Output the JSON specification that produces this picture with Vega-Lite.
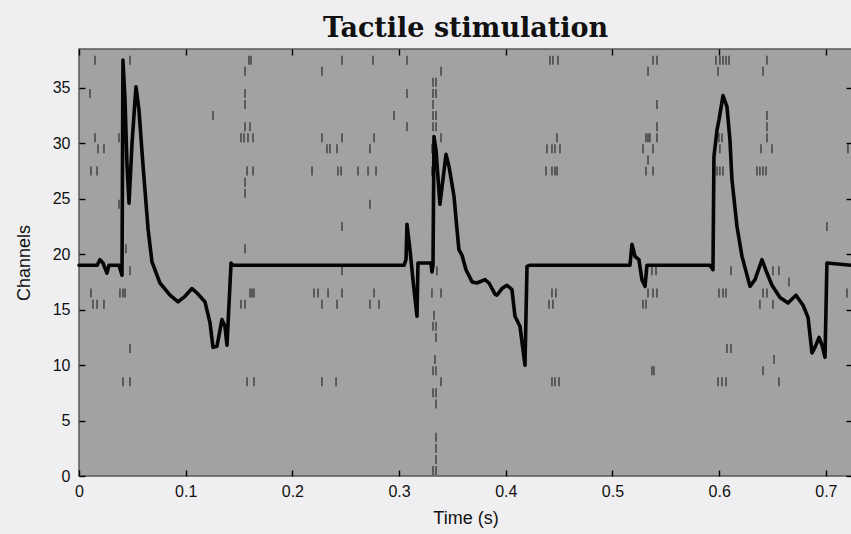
{
  "$schema": "https://vega.github.io/schema/vega-lite/v6.json",
  "autosize": "none",
  "width": 773,
  "height": 427,
  "padding": {"left": 79, "top": 49, "right": 0, "bottom": 58},
  "background": "#efeff1",
  "title": {
    "text": "Tactile stimulation",
    "font": "DejaVu Serif",
    "fontSize": 27,
    "fontWeight": "bold",
    "color": "#111111",
    "anchor": "middle",
    "baseline": "alphabetic",
    "offset": 12,
    "dy": 28
  },
  "config": {
    "view": {"fill": "#a2a2a2", "stroke": "#5a5a5a", "strokeWidth": 1.5},
    "axis": {
      "grid": false,
      "domain": false,
      "offset": -6,
      "zindex": 1,
      "labelFlush": false,
      "tickColor": "#000000",
      "tickSize": 6,
      "tickWidth": 1.4,
      "labelFont": "Liberation Sans",
      "labelFontSize": 16,
      "labelColor": "#111111",
      "titleFont": "Liberation Sans",
      "titleFontSize": 18,
      "titleFontWeight": "normal",
      "titleColor": "#111111"
    }
  },
  "datasets": {
    "spikes": [
      {"t": 0.0150, "ch": 37}, {"t": 0.0478, "ch": 37}, {"t": 0.1593, "ch": 37}, {"t": 0.1612, "ch": 37},
      {"t": 0.2465, "ch": 37}, {"t": 0.2755, "ch": 37}, {"t": 0.3074, "ch": 37}, {"t": 0.4414, "ch": 37},
      {"t": 0.4442, "ch": 37}, {"t": 0.4489, "ch": 37}, {"t": 0.5380, "ch": 37}, {"t": 0.5417, "ch": 37},
      {"t": 0.5970, "ch": 37}, {"t": 0.6007, "ch": 37}, {"t": 0.6036, "ch": 37}, {"t": 0.6064, "ch": 37},
      {"t": 0.6092, "ch": 37}, {"t": 0.6448, "ch": 37},
      {"t": 0.1556, "ch": 36}, {"t": 0.2277, "ch": 36}, {"t": 0.3393, "ch": 36}, {"t": 0.5333, "ch": 36},
      {"t": 0.5989, "ch": 36}, {"t": 0.6411, "ch": 36},
      {"t": 0.3318, "ch": 35}, {"t": 0.3346, "ch": 35},
      {"t": 0.0103, "ch": 34}, {"t": 0.1556, "ch": 34}, {"t": 0.3074, "ch": 34}, {"t": 0.3318, "ch": 34},
      {"t": 0.3346, "ch": 34},
      {"t": 0.1556, "ch": 33}, {"t": 0.3318, "ch": 33}, {"t": 0.5417, "ch": 33},
      {"t": 0.1256, "ch": 32}, {"t": 0.2952, "ch": 32}, {"t": 0.3318, "ch": 32}, {"t": 0.3346, "ch": 32},
      {"t": 0.6448, "ch": 32},
      {"t": 0.1556, "ch": 31}, {"t": 0.1603, "ch": 31}, {"t": 0.3074, "ch": 31}, {"t": 0.3318, "ch": 31},
      {"t": 0.3346, "ch": 31}, {"t": 0.5417, "ch": 31}, {"t": 0.6448, "ch": 31},
      {"t": 0.0150, "ch": 30}, {"t": 0.0375, "ch": 30}, {"t": 0.1518, "ch": 30}, {"t": 0.1546, "ch": 30},
      {"t": 0.1584, "ch": 30}, {"t": 0.1631, "ch": 30}, {"t": 0.2277, "ch": 30}, {"t": 0.2465, "ch": 30},
      {"t": 0.2765, "ch": 30}, {"t": 0.3393, "ch": 30}, {"t": 0.4480, "ch": 30}, {"t": 0.5314, "ch": 30},
      {"t": 0.5333, "ch": 30}, {"t": 0.5351, "ch": 30}, {"t": 0.5417, "ch": 30}, {"t": 0.5998, "ch": 30},
      {"t": 0.6026, "ch": 30}, {"t": 0.6448, "ch": 30},
      {"t": 0.0178, "ch": 29}, {"t": 0.0234, "ch": 29}, {"t": 0.2324, "ch": 29}, {"t": 0.2352, "ch": 29},
      {"t": 0.2418, "ch": 29}, {"t": 0.2727, "ch": 29}, {"t": 0.3308, "ch": 29}, {"t": 0.4386, "ch": 29},
      {"t": 0.4433, "ch": 29}, {"t": 0.4461, "ch": 29}, {"t": 0.4508, "ch": 29}, {"t": 0.5286, "ch": 29},
      {"t": 0.5380, "ch": 29}, {"t": 0.6007, "ch": 29}, {"t": 0.6392, "ch": 29}, {"t": 0.6495, "ch": 29},
      {"t": 0.7207, "ch": 29},
      {"t": 0.5333, "ch": 28},
      {"t": 0.0112, "ch": 27}, {"t": 0.0169, "ch": 27}, {"t": 0.1575, "ch": 27}, {"t": 0.1631, "ch": 27},
      {"t": 0.2184, "ch": 27}, {"t": 0.2427, "ch": 27}, {"t": 0.2456, "ch": 27}, {"t": 0.2615, "ch": 27},
      {"t": 0.2709, "ch": 27}, {"t": 0.2784, "ch": 27}, {"t": 0.3308, "ch": 27}, {"t": 0.4377, "ch": 27},
      {"t": 0.4433, "ch": 27}, {"t": 0.4461, "ch": 27}, {"t": 0.4480, "ch": 27}, {"t": 0.5314, "ch": 27},
      {"t": 0.5380, "ch": 27}, {"t": 0.5980, "ch": 27}, {"t": 0.6007, "ch": 27}, {"t": 0.6036, "ch": 27},
      {"t": 0.6354, "ch": 27}, {"t": 0.6382, "ch": 27}, {"t": 0.6411, "ch": 27}, {"t": 0.6439, "ch": 27},
      {"t": 0.1556, "ch": 26}, {"t": 0.1556, "ch": 25},
      {"t": 0.0375, "ch": 24}, {"t": 0.2727, "ch": 24},
      {"t": 0.2465, "ch": 22}, {"t": 0.7010, "ch": 22},
      {"t": 0.0440, "ch": 20}, {"t": 0.1556, "ch": 20},
      {"t": 0.0478, "ch": 18}, {"t": 0.2465, "ch": 18}, {"t": 0.3355, "ch": 18}, {"t": 0.5370, "ch": 18},
      {"t": 0.5408, "ch": 18}, {"t": 0.6111, "ch": 18}, {"t": 0.6504, "ch": 18}, {"t": 0.6560, "ch": 18},
      {"t": 0.6654, "ch": 17},
      {"t": 0.0112, "ch": 16}, {"t": 0.0384, "ch": 16}, {"t": 0.0412, "ch": 16}, {"t": 0.0431, "ch": 16},
      {"t": 0.1603, "ch": 16}, {"t": 0.1621, "ch": 16}, {"t": 0.1640, "ch": 16}, {"t": 0.2202, "ch": 16},
      {"t": 0.2240, "ch": 16}, {"t": 0.2334, "ch": 16}, {"t": 0.2465, "ch": 16}, {"t": 0.2765, "ch": 16},
      {"t": 0.3308, "ch": 16}, {"t": 0.3393, "ch": 16}, {"t": 0.4433, "ch": 16}, {"t": 0.4470, "ch": 16},
      {"t": 0.5333, "ch": 16}, {"t": 0.5380, "ch": 16}, {"t": 0.5417, "ch": 16}, {"t": 0.5998, "ch": 16},
      {"t": 0.6036, "ch": 16}, {"t": 0.6064, "ch": 16}, {"t": 0.6411, "ch": 16}, {"t": 0.6448, "ch": 16},
      {"t": 0.7198, "ch": 16},
      {"t": 0.0131, "ch": 15}, {"t": 0.0169, "ch": 15}, {"t": 0.0234, "ch": 15}, {"t": 0.1518, "ch": 15},
      {"t": 0.1556, "ch": 15}, {"t": 0.2277, "ch": 15}, {"t": 0.2418, "ch": 15}, {"t": 0.2727, "ch": 15},
      {"t": 0.2812, "ch": 15}, {"t": 0.4405, "ch": 15}, {"t": 0.4442, "ch": 15}, {"t": 0.5286, "ch": 15},
      {"t": 0.5314, "ch": 15}, {"t": 0.6382, "ch": 15}, {"t": 0.6504, "ch": 15},
      {"t": 0.3327, "ch": 14},
      {"t": 0.3318, "ch": 13}, {"t": 0.3346, "ch": 13},
      {"t": 0.3346, "ch": 12},
      {"t": 0.0478, "ch": 11}, {"t": 0.6073, "ch": 11}, {"t": 0.6111, "ch": 11},
      {"t": 0.3336, "ch": 10}, {"t": 0.6514, "ch": 10},
      {"t": 0.3318, "ch": 9}, {"t": 0.3346, "ch": 9}, {"t": 0.5370, "ch": 9}, {"t": 0.5389, "ch": 9},
      {"t": 0.6411, "ch": 9},
      {"t": 0.0412, "ch": 8}, {"t": 0.0478, "ch": 8}, {"t": 0.1575, "ch": 8}, {"t": 0.1640, "ch": 8},
      {"t": 0.2277, "ch": 8}, {"t": 0.2409, "ch": 8}, {"t": 0.3393, "ch": 8}, {"t": 0.4433, "ch": 8},
      {"t": 0.4461, "ch": 8}, {"t": 0.4499, "ch": 8}, {"t": 0.5989, "ch": 8}, {"t": 0.6026, "ch": 8},
      {"t": 0.6064, "ch": 8}, {"t": 0.6560, "ch": 8},
      {"t": 0.3318, "ch": 7}, {"t": 0.3346, "ch": 7},
      {"t": 0.3346, "ch": 6},
      {"t": 0.3346, "ch": 3}, {"t": 0.3346, "ch": 2}, {"t": 0.3346, "ch": 1},
      {"t": 0.3318, "ch": 0}, {"t": 0.3346, "ch": 0}
    ],
    "trace": [
      {"t": 0, "v": 19}, {"t": 0.0169, "v": 19}, {"t": 0.0197, "v": 19.5}, {"t": 0.0225, "v": 19.2},
      {"t": 0.0262, "v": 18.3}, {"t": 0.0281, "v": 19}, {"t": 0.0375, "v": 19}, {"t": 0.0403, "v": 18.1},
      {"t": 0.0412, "v": 37.5}, {"t": 0.0431, "v": 34}, {"t": 0.045, "v": 28}, {"t": 0.0469, "v": 24.6},
      {"t": 0.0497, "v": 30}, {"t": 0.0534, "v": 35.1}, {"t": 0.0562, "v": 33}, {"t": 0.06, "v": 28},
      {"t": 0.0647, "v": 22.3}, {"t": 0.0684, "v": 19.3}, {"t": 0.0759, "v": 17.4}, {"t": 0.0853, "v": 16.3},
      {"t": 0.0928, "v": 15.7}, {"t": 0.0993, "v": 16.2}, {"t": 0.1059, "v": 16.9}, {"t": 0.1106, "v": 16.5},
      {"t": 0.1181, "v": 15.7}, {"t": 0.1228, "v": 13.8}, {"t": 0.1256, "v": 11.6}, {"t": 0.1293, "v": 11.7},
      {"t": 0.134, "v": 14.1}, {"t": 0.1368, "v": 13.5}, {"t": 0.1387, "v": 11.8}, {"t": 0.1425, "v": 19.2},
      {"t": 0.1443, "v": 19}, {"t": 0.3046, "v": 19}, {"t": 0.3065, "v": 19.5}, {"t": 0.3074, "v": 22.7},
      {"t": 0.3102, "v": 20.4}, {"t": 0.313, "v": 17.7}, {"t": 0.3168, "v": 14.4}, {"t": 0.3177, "v": 19.2},
      {"t": 0.3299, "v": 19.2}, {"t": 0.3308, "v": 18.4}, {"t": 0.3318, "v": 19}, {"t": 0.3327, "v": 30.6},
      {"t": 0.3346, "v": 29.4}, {"t": 0.3383, "v": 24.5}, {"t": 0.344, "v": 29}, {"t": 0.3468, "v": 27.9},
      {"t": 0.3515, "v": 25.2}, {"t": 0.3543, "v": 22.2}, {"t": 0.3561, "v": 20.4}, {"t": 0.359, "v": 19.9},
      {"t": 0.3627, "v": 18.6}, {"t": 0.3684, "v": 17.5}, {"t": 0.373, "v": 17.4}, {"t": 0.3805, "v": 17.7},
      {"t": 0.3843, "v": 17.4}, {"t": 0.3899, "v": 16.4}, {"t": 0.3917, "v": 16.3}, {"t": 0.3964, "v": 16.9},
      {"t": 0.4011, "v": 17.2}, {"t": 0.4058, "v": 16.8}, {"t": 0.4086, "v": 14.4}, {"t": 0.4133, "v": 13.5},
      {"t": 0.4161, "v": 11.4}, {"t": 0.418, "v": 10}, {"t": 0.4199, "v": 18.9}, {"t": 0.4227, "v": 19},
      {"t": 0.5164, "v": 19}, {"t": 0.5183, "v": 20.9}, {"t": 0.5211, "v": 19.8}, {"t": 0.5248, "v": 19.5},
      {"t": 0.5276, "v": 17.7}, {"t": 0.5305, "v": 17.1}, {"t": 0.5323, "v": 19}, {"t": 0.5914, "v": 19},
      {"t": 0.5942, "v": 18.6}, {"t": 0.5951, "v": 28.8}, {"t": 0.598, "v": 31.2}, {"t": 0.5998, "v": 32.1},
      {"t": 0.6036, "v": 34.3}, {"t": 0.6073, "v": 33.3}, {"t": 0.6101, "v": 30.3}, {"t": 0.612, "v": 26.7},
      {"t": 0.6167, "v": 22.5}, {"t": 0.6214, "v": 19.8}, {"t": 0.6289, "v": 17.1}, {"t": 0.6336, "v": 17.7},
      {"t": 0.6401, "v": 19.5}, {"t": 0.6448, "v": 18.3}, {"t": 0.6495, "v": 17.2}, {"t": 0.657, "v": 16.1},
      {"t": 0.6645, "v": 15.6}, {"t": 0.672, "v": 16.3}, {"t": 0.6786, "v": 15.4}, {"t": 0.6833, "v": 14.3},
      {"t": 0.687, "v": 11.1}, {"t": 0.6898, "v": 11.6}, {"t": 0.6936, "v": 12.5}, {"t": 0.6964, "v": 11.8},
      {"t": 0.6992, "v": 10.7}, {"t": 0.701, "v": 19.2}, {"t": 0.7245, "v": 19}
    ]
  },
  "layer": [
    {
      "data": {"name": "spikes"},
      "mark": {"type": "tick", "orient": "vertical", "size": 9, "thickness": 1.4, "color": "#111111", "yOffset": -5.5},
      "encoding": {
        "x": {
          "field": "t", "type": "quantitative",
          "scale": {"domain": [0, 0.7245], "nice": false, "zero": false},
          "axis": {"orient": "bottom", "title": "Time (s)", "values": [0, 0.1, 0.2, 0.3, 0.4, 0.5, 0.6, 0.7], "format": "~g", "labelPadding": 7, "titlePadding": 10}
        },
        "y": {
          "field": "ch", "type": "quantitative",
          "scale": {"domain": [0, 38.5], "nice": false},
          "axis": {"orient": "left", "title": "Channels", "values": [0, 5, 10, 15, 20, 25, 30, 35], "labelPadding": 9, "titlePadding": 19}
        }
      }
    },
    {
      "data": {"name": "trace"},
      "mark": {"type": "line", "color": "#050505", "strokeWidth": 3.6, "strokeJoin": "round", "strokeCap": "round"},
      "encoding": {
        "x": {"field": "t", "type": "quantitative", "axis": {"orient": "top", "title": null, "labels": false, "values": [0, 0.1, 0.2, 0.3, 0.4, 0.5, 0.6, 0.7]}},
        "y": {"field": "v", "type": "quantitative", "axis": {"orient": "right", "title": null, "labels": false, "values": [0, 5, 10, 15, 20, 25, 30, 35]}}
      }
    }
  ],
  "resolve": {"axis": {"x": "independent", "y": "independent"}}
}
